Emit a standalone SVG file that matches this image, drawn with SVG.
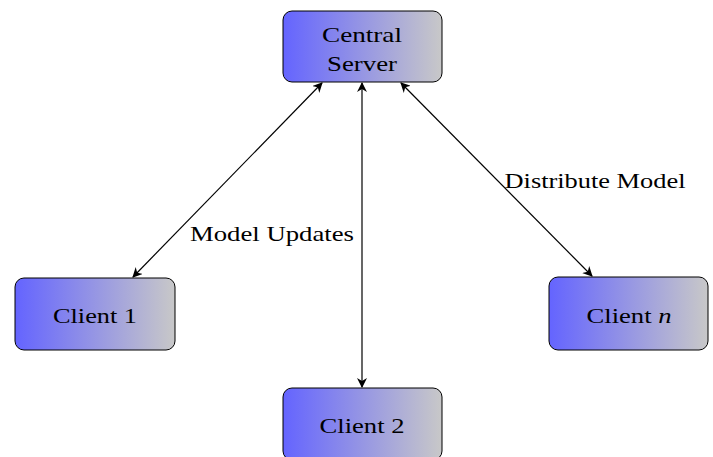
<svg xmlns="http://www.w3.org/2000/svg" width="713" height="457" viewBox="0 0 713 457">
<style>
.box{stroke:#000;stroke-width:1;fill:url(#g)}
.t{font-family:"Liberation Serif","DejaVu Serif",serif;font-size:22px;fill:#000;text-anchor:middle}
.c{stroke:#000;stroke-width:1.2;fill:none;marker-start:url(#a);marker-end:url(#a)}
</style>
<defs>
<linearGradient id="g" x1="0" y1="0" x2="1" y2="0">
<stop offset="0" stop-color="#6464ff"/>
<stop offset="1" stop-color="#c8c8c8"/>
</linearGradient>
<marker id="a" viewBox="0 0 10 10" refX="9" refY="5" markerWidth="10" markerHeight="10" markerUnits="userSpaceOnUse" orient="auto-start-reverse">
<path d="M0,0 L10,5 L0,10 L3,5 Z" fill="#000"/>
</marker>
</defs>
<g id="connectors">
<line class="c" x1="322" y1="83" x2="133" y2="277"/>
<line class="c" x1="362" y1="83" x2="362" y2="387"/>
<line class="c" x1="401" y1="83" x2="592" y2="276"/>
<text class="t" x="272" y="241" textLength="164" lengthAdjust="spacingAndGlyphs">Model Updates</text>
<text class="t" x="595" y="188" textLength="181" lengthAdjust="spacingAndGlyphs">Distribute Model</text>
</g>
<g id="server">
<rect class="box" x="283" y="11" width="159" height="71" rx="9"/>
<text class="t" x="362" y="42" textLength="80" lengthAdjust="spacingAndGlyphs">Central</text>
<text class="t" x="362" y="71" textLength="70" lengthAdjust="spacingAndGlyphs">Server</text>
</g>
<g id="client1">
<rect class="box" x="15" y="278" width="160" height="72" rx="9"/>
<text class="t" x="95" y="323" textLength="84" lengthAdjust="spacingAndGlyphs">Client 1</text>
</g>
<g id="client2">
<rect class="box" x="283" y="388" width="159" height="72" rx="9"/>
<text class="t" x="362" y="433" textLength="85" lengthAdjust="spacingAndGlyphs">Client 2</text>
</g>
<g id="clientn">
<rect class="box" x="549" y="277" width="159" height="73" rx="9"/>
<text class="t" x="629" y="323" textLength="85" lengthAdjust="spacingAndGlyphs">Client <tspan font-style="italic">n</tspan></text>
</g>
</svg>
